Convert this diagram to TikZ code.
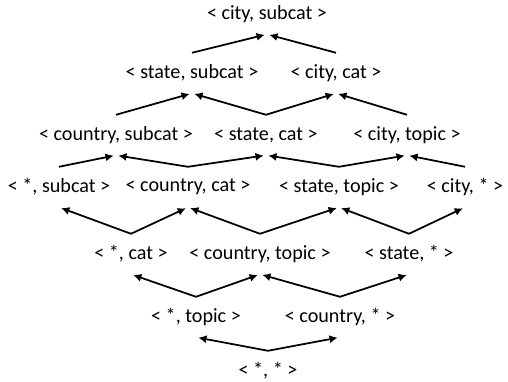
\documentclass[tikz,border=0pt]{standalone}
\usepackage{fontspec}
\setmainfont{Carlito}
\usetikzlibrary{arrows.meta}
\begin{document}
\begin{tikzpicture}[x=0.03cm, y=-0.03cm,
			mynode/.style={font=\fontsize{17.2}{19}\selectfont, inner sep=0pt, minimum height=1.2cm},
			myedge/.style={line width=1.5pt, -{Latex[length=7pt, width=7pt]}, shorten >=2pt}]
			\useasboundingbox (0, 0) rectangle (508, 381);

			\node[mynode] at (267, 14) (city-subcat) {< city, subcat >};

			\node[mynode] at (192, 73) (state-subcat) {< state, subcat >};
			\node[mynode] at (336, 73) (city-cat) {< city, cat >};

			\node[mynode] at (116, 135) (country-subcat) {< country, subcat >};
			\node[mynode] at (266, 135) (state-cat) {< state, cat >};
			\node[mynode] at (407, 135) (city-topic) {< city, topic >};

			\node[mynode] at (59, 187) (star-subcat) {< *, subcat >};
			\node[mynode] at (188, 187) (country-cat) {< country, cat >};
			\node[mynode] at (339, 187) (state-topic) {< state, topic >};
			\node[mynode] at (465, 187) (city-star) {< city, * >};

			\node[mynode] at (131, 254) (star-cat) {< *, cat >};
			\node[mynode] at (260, 254) (country-topic) {< country, topic >};
			\node[mynode] at (409, 254) (state-star) {< state, * >};

			\node[mynode] at (196, 317) (star-topic) {< *, topic >};
			\node[mynode] at (340, 317) (country-star) {< country, * >};

			\node[mynode] at (268, 371) (star-star) {< *, * >};

			\path
			(state-subcat.north) edge[myedge] (city-subcat.south)
			(city-cat.north) edge[myedge] (city-subcat.south)
			(country-subcat.north) edge[myedge] (state-subcat.south)
			(state-cat.north) edge[myedge] (state-subcat.south)
			(state-cat.north) edge[myedge] (city-cat.south)
			(city-topic.north) edge[myedge] (city-cat.south)
			(star-subcat.north) edge[myedge] (country-subcat.south)
			(country-cat.north) edge[myedge] (country-subcat.south)
			(country-cat.north) edge[myedge] (state-cat.south)
			(state-topic.north) edge[myedge] (state-cat.south)
			(state-topic.north) edge[myedge] (city-topic.south)
			(city-star.north) edge[myedge] (city-topic.south)
			(star-cat.north) edge[myedge] (star-subcat.south)
			(star-cat.north) edge[myedge] (country-cat.south)
			(country-topic.north) edge[myedge] (country-cat.south)
			(country-topic.north) edge[myedge] (state-topic.south)
			(state-star.north) edge[myedge] (state-topic.south)
			(state-star.north) edge[myedge] (city-star.south)
			(star-topic.north) edge[myedge] (star-cat.south)
			(star-topic.north) edge[myedge] (country-topic.south)
			(country-star.north) edge[myedge] (country-topic.south)
			(country-star.north) edge[myedge] (state-star.south)
			(star-star.north) edge[myedge] (star-topic.south)
			(star-star.north) edge[myedge] (country-star.south);
		\end{tikzpicture}
\end{document}
